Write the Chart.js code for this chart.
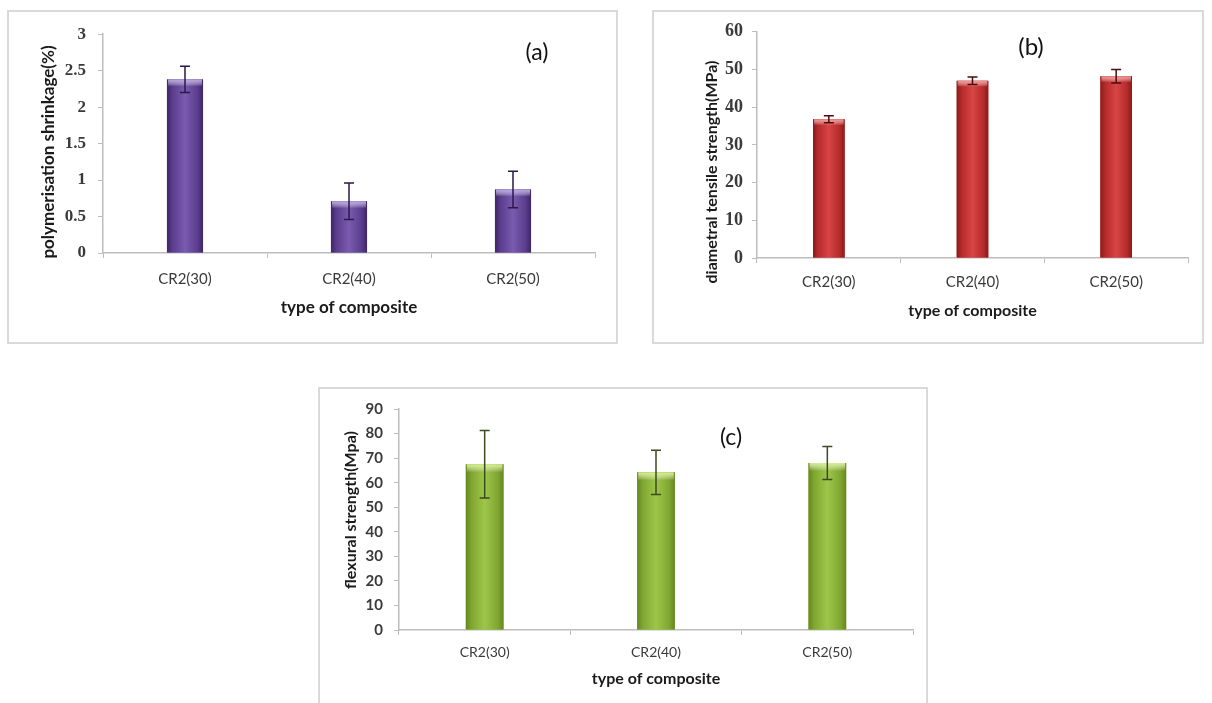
<!DOCTYPE html>
<html><head><meta charset="utf-8">
<script src="https://cdn.jsdelivr.net/npm/chart.js@4.4.1/dist/chart.umd.min.js"></script>
<style>
html,body{margin:0;padding:0;background:#fff;width:1212px;height:703px;overflow:hidden;}
.box{position:absolute;box-sizing:border-box;border:2px solid #d9d9d9;background:#fff;}
.box canvas{position:absolute;left:0;top:0;}
</style></head>
<body>
<div class="box" style="left:7px;top:10px;width:611px;height:334px;"><canvas id="ca" width="607" height="330"></canvas></div>
<div class="box" style="left:652px;top:10px;width:552px;height:334px;"><canvas id="cb" width="548" height="330"></canvas></div>
<div class="box" style="left:318px;top:387px;width:610px;height:340px;"><canvas id="cc" width="606" height="314"></canvas></div>
<script>
// ---- data ----
const categories = ['CR2(30)', 'CR2(40)', 'CR2(50)'];
const shrinkage = [2.38, 0.71, 0.87];
const shrinkageErr = [0.18, 0.25, 0.25];
const tensile = [36.8, 47.0, 48.2];
const tensileErr = [0.9, 1.0, 1.8];
const flexural = [67.5, 64.2, 68.0];
const flexuralErr = [13.7, 9.0, 6.7];
const ticksA = ['0', '0.5', '1', '1.5', '2', '2.5', '3'];
const ticksB = ['0', '10', '20', '30', '40', '50', '60'];
const ticksC = ['0', '10', '20', '30', '40', '50', '60', '70', '80', '90'];
const xTitle = 'type of composite';
const yTitleA = 'polymerisation shrinkage(%)';
const yTitleB = 'diametral tensile strength(MPa)';
const yTitleC = 'flexural strength(Mpa)';

const decor = {
  id: 'decor',
  afterDatasetsDraw(chart, args, o) {
    const ctx = chart.ctx;
    const meta = chart.getDatasetMeta(0);
    const ys = chart.scales.y;
    const vals = chart.data.datasets[0].data;
    meta.data.forEach((bar, i) => {
      const p = bar.getProps(['x', 'y', 'base', 'width'], true);
      const l = p.x - p.width / 2, r = p.x + p.width / 2;
      ctx.save();
      const g = ctx.createLinearGradient(l, 0, r, 0);
      g.addColorStop(0, o.edge); g.addColorStop(0.15, o.mid2); g.addColorStop(0.5, o.mid); g.addColorStop(0.85, o.mid2); g.addColorStop(1, o.edge);
      ctx.fillStyle = g;
      ctx.fillRect(l, p.y, p.width, p.base - p.y);
      const g2 = ctx.createLinearGradient(0, p.y, 0, p.y + o.hiH);
      g2.addColorStop(0, o.hi); g2.addColorStop(1, 'rgba(255,255,255,0)');
      ctx.fillStyle = g2;
      ctx.fillRect(l + 1, p.y, p.width - 2, o.hiH);
      const yt = ys.getPixelForValue(vals[i] + o.errors[i]);
      const yb = ys.getPixelForValue(vals[i] - o.errors[i]);
      ctx.strokeStyle = o.errColor; ctx.lineWidth = 1.5;
      ctx.beginPath();
      ctx.moveTo(p.x, yt); ctx.lineTo(p.x, yb);
      ctx.moveTo(p.x - 5, yt); ctx.lineTo(p.x + 5, yt);
      ctx.moveTo(p.x - 5, yb); ctx.lineTo(p.x + 5, yb);
      ctx.stroke();
      ctx.restore();
    });
    // y axis title
    ctx.save();
    ctx.translate(o.yt.x, o.yt.y);
    ctx.rotate(-Math.PI / 2);
    ctx.font = o.yt.font;
    ctx.fillStyle = '#1a1a1a';
    ctx.textAlign = 'center'; ctx.textBaseline = 'middle';
    ctx.fillText(o.yt.text, 0, 0);
    ctx.restore();
    // panel tag
    ctx.save();
    ctx.font = o.tag.font;
    ctx.fillStyle = '#111';
    ctx.textAlign = 'center'; ctx.textBaseline = 'middle';
    ctx.fillText(o.tag.text, o.tag.x, o.tag.y);
    ctx.restore();
  }
};

function make(id, vals, cfg) {
  new Chart(document.getElementById(id), {
    type: 'bar',
    data: { labels: categories, datasets: [{ data: vals, backgroundColor: cfg.base, categoryPercentage: 1, barPercentage: 0.22 }] },
    plugins: [decor],
    options: {
      responsive: false, animation: false,
      layout: { padding: { top: cfg.padTop, right: cfg.padRight, left: 0, bottom: 0 } },
      plugins: { legend: { display: false }, tooltip: { enabled: false }, decor: cfg.decor },
      scales: {
        x: {
          afterFit(s) { s.height = cfg.xH; },
          grid: { display: true, offset: true, drawOnChartArea: false, drawTicks: true, tickLength: 5, color: '#bdbdbd' },
          border: { display: true, color: '#bdbdbd', width: 1.5 },
          ticks: { color: '#3a3a3a', padding: cfg.xPad, font: { family: 'Lato', size: cfg.xFont } },
          title: { display: true, text: xTitle, color: '#1a1a1a', font: { family: 'Lato', size: cfg.tFont, weight: 'bold' }, padding: { top: 0, bottom: cfg.tPad } }
        },
        y: {
          min: 0, max: cfg.max,
          afterFit(s) { s.width = cfg.yW; },
          grid: { display: true, drawOnChartArea: false, drawTicks: true, tickLength: 5, color: '#bdbdbd' },
          border: { display: true, color: '#bdbdbd', width: 1.5 },
          ticks: { stepSize: cfg.step, color: '#3a3a3a', padding: cfg.yPad, font: cfg.yTickFont,
            callback: (v, i) => cfg.labels[i] }
        }
      }
    }
  });
}

make('ca', shrinkage, {
  base: '#6a4b9c', max: 3, step: 0.5, labels: ticksA, padTop: 19, padRight: 21, xH: 89, yW: 94, xPad: 12, xFont: 15, tFont: 17, tPad: 24, yPad: 12,
  yTickFont: { family: 'Liberation Serif', size: 17, weight: 'bold' },
  decor: { errors: shrinkageErr, edge: '#3f2568', mid2: '#5a3d8c', mid: '#7a5bb0', hi: '#b7a2df', hiH: 7, errColor: '#2a1848',
    yt: { text: yTitleA, x: 40, y: 140, font: 'bold 17px Lato' }, tag: { text: '(a)', x: 528, y: 41, font: '23px Lato' } }
});
make('cb', tensile, {
  base: '#c0302e', max: 60, step: 10, labels: ticksB, padTop: 19, padRight: 14, xH: 84, yW: 103, xPad: 10, xFont: 15, tFont: 16, tPad: 22, yPad: 9,
  yTickFont: { family: 'Liberation Serif', size: 18, weight: 'bold' },
  decor: { errors: tensileErr, edge: '#8a1a1a', mid2: '#b42a2a', mid: '#d84545', hi: '#f09090', hiH: 6, errColor: '#4a0d0d',
    yt: { text: yTitleB, x: 58, y: 160, font: 'bold 16px Lato' }, tag: { text: '(b)', x: 377, y: 35, font: '24px Lato' } }
});
make('cc', flexural, {
  base: '#8ab23a', max: 90, step: 10, labels: ticksC, padTop: 16, padRight: 13, xH: 73, yW: 79, xPad: 9, xFont: 14, tFont: 16, tPad: 15, yPad: 11,
  yTickFont: { family: 'Lato', size: 15, weight: 'bold' },
  decor: { errors: flexuralErr, edge: '#66861f', mid2: '#80a632', mid: '#9fc64a', hi: '#d6f08a', hiH: 8, errColor: '#3c4a22',
    yt: { text: yTitleC, x: 31, y: 121, font: 'bold 16px Lato' }, tag: { text: '(c)', x: 411, y: 49, font: '23px Lato' } }
});
</script>
</body></html>
